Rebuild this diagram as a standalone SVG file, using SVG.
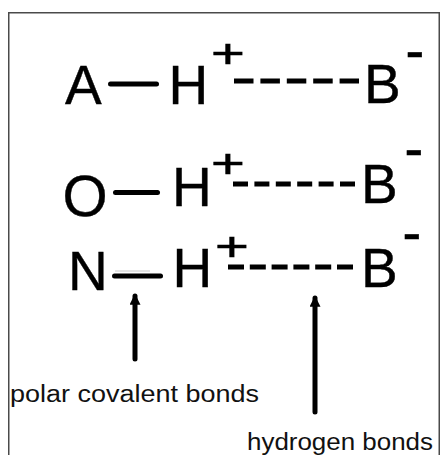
<svg xmlns="http://www.w3.org/2000/svg" width="441" height="455" viewBox="0 0 441 455">
<defs>
<style>
.atom{font-family:"Liberation Sans",Arial,sans-serif;font-size:55px;fill:#000;stroke:#000;stroke-width:0.4}
.chg{font-family:"Liberation Sans",Arial,sans-serif;font-size:40px;fill:#000;text-anchor:middle;stroke:#000;stroke-width:0.6}
.neg{font-family:"Liberation Sans",Arial,sans-serif;font-size:56px;fill:#000;stroke:#000;stroke-width:0.6}
.lbl{font-family:"Liberation Sans",Arial,sans-serif;font-size:23px;fill:#111}
.bond{stroke:#000;stroke-width:5;stroke-linecap:round;fill:none}
.hb{stroke:#000;stroke-width:5;fill:none}
.arr{stroke:#000;stroke-width:5;stroke-linecap:round;fill:none}
</style>
<marker id="head" viewBox="0 0 10 10" refX="8" refY="5" markerWidth="2.2" markerHeight="2.2" orient="auto">
<path d="M0,0 L10,5 L0,10 z" fill="#000"/>
</marker>
</defs>
<rect x="8.75" y="12.75" width="430.5" height="460" fill="#fff" stroke="#4a4a4a" stroke-width="1.5"/>

<g id="row1">
<text class="atom" x="65" y="103.5">A</text>
<line class="bond" x1="110.5" y1="84" x2="156.5" y2="84"/>
<text class="atom" x="168.6" y="104">H</text>
<text class="chg" transform="translate(228,68) scale(1.45,1)" x="0" y="0">+</text>
<line class="hb" x1="234" y1="81" x2="359" y2="81" stroke-dasharray="19.5 6.9"/>
<text class="atom" x="364" y="103">B</text>
<text class="neg" x="405.5" y="70">-</text>
</g>

<g id="row2">
<text class="atom" x="62.5" y="216" style="font-size:58px">O</text>
<line class="bond" x1="115.5" y1="192.5" x2="157.5" y2="192.5"/>
<text class="atom" x="172" y="206">H</text>
<text class="chg" transform="translate(228,177.5) scale(1.45,1)" x="0" y="0">+</text>
<line class="hb" x1="233" y1="184" x2="355" y2="184" stroke-dasharray="15 6.4"/>
<text class="atom" x="361" y="203">B</text>
<text class="neg" x="404.5" y="167.5">-</text>
</g>

<g id="row3">
<text class="atom" x="68" y="290">N</text>
<line x1="115" y1="271" x2="150" y2="271" stroke="#c8c8c8" stroke-width="1"/>
<line class="bond" x1="114.5" y1="276" x2="160.5" y2="276"/>
<text class="atom" x="172.6" y="287">H</text>
<text class="chg" transform="translate(232,261) scale(1.45,1)" x="0" y="0">+</text>
<line class="hb" x1="228" y1="267" x2="353" y2="267" stroke-dasharray="16 5.8"/>
<text class="atom" x="361" y="287">B</text>
<text class="neg" x="402.5" y="251.5">-</text>
</g>

<g id="connectors">
<line class="arr" x1="135" y1="359" x2="135" y2="296" marker-end="url(#head)"/>
<line class="arr" x1="315" y1="412" x2="315" y2="298" marker-end="url(#head)"/>
</g>

<g id="label-polar">
<text class="lbl" x="10" y="402" textLength="249" lengthAdjust="spacingAndGlyphs">polar covalent bonds</text>
</g>
<g id="label-hydrogen">
<text class="lbl" x="247" y="450" textLength="186" lengthAdjust="spacingAndGlyphs">hydrogen bonds</text>
</g>
</svg>
